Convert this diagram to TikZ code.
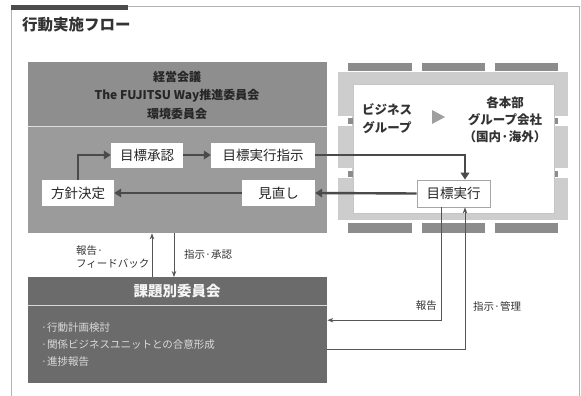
\documentclass[tikz,border=0pt]{standalone}
\usepackage{fontspec}
\setmainfont{Noto Sans CJK JP}
\usetikzlibrary{arrows.meta,calc}
\definecolor{hdrgray}{HTML}{8E8E8E}
\definecolor{lowgray}{HTML}{9B9B9B}
\definecolor{botgray}{HTML}{6B6B6B}
\definecolor{arr}{HTML}{4A4A4A}
\definecolor{thinl}{HTML}{555555}
\definecolor{framel}{HTML}{CDCDCD}
\definecolor{bardark}{HTML}{8C8C8C}
\definecolor{listtxt}{HTML}{DADADA}
\tikzset{
  wbox/.style={fill=white, inner sep=0pt, font=\fontsize{13.5}{15}\selectfont, text=black!85},
  thickarr/.style={draw=arr, line width=2.4pt, -{Triangle[length=7pt,width=8.5pt]}},
  thinarr/.style={draw=thinl, line width=0.8pt, -{Stealth[length=6pt,width=4.5pt]}},
  smalllbl/.style={font=\fontsize{10.5}{13}\selectfont, text=black!80, inner sep=0pt},
  darkbar/.style={fill=bardark},
}
\begin{document}
\begin{tikzpicture}[x=1pt,y=-1pt]
\useasboundingbox (0,0) rectangle (581,396);
% outer frame
\draw[gray!60, line width=0.8pt] (11,396) -- (11,6) -- (579,6) -- (579,396);
\fill[black!70] (11,5) rectangle (128,10.5);
\node[anchor=west, inner sep=0pt, font=\fontsize{15.5}{17}\selectfont\bfseries, text=black!80] (title) at (22,25) {行動実施フロー};

% top management box
\node[fill=lowgray, minimum width=299pt, minimum height=171pt, inner sep=0pt, anchor=north west] (mgmt) at (28,62) {};
\fill[hdrgray] (28,62) rectangle (327,126);
\draw[white!75!gray, line width=1pt] (28,126) -- (327,126);
\node[align=center, inner sep=0pt, font=\fontsize{12}{18.5}\selectfont\bfseries, text=black!85] (mgmttxt) at (177,95) {経営会議\\The FUJITSU Way推進委員会\\環境委員会};

% nodes inside
\node[wbox, minimum width=72pt, minimum height=25pt] (shonin) at (147,155) {目標承認};
\node[wbox, minimum width=104pt, minimum height=25pt] (shiji) at (263,155) {目標実行指示};
\node[wbox, minimum width=72pt, minimum height=26pt] (hoshin) at (78,193) {方針決定};
\node[wbox, minimum width=73pt, minimum height=26pt] (minaoshi) at (278.5,193) {見直し};

% right frame
\fill[framel] (338,72) rectangle (568,220);
\fill[white] (337,116) rectangle (352,126);
\fill[white] (337,168) rectangle (352,178);
\fill[white] (554,116) rectangle (569,126);
\fill[white] (554,168) rectangle (569,178);
\fill[bardark] (348,118) rectangle (353,124);
\fill[bardark] (348,171) rectangle (353,177);
\fill[bardark] (553,118) rectangle (558,124);
\fill[bardark] (553,171) rectangle (558,177);
\node[fill=white, draw=gray!45, line width=0.6pt, minimum width=201pt, minimum height=129pt, inner sep=0pt, anchor=north west] (bizbox) at (352.5,84) {};
\fill[darkbar] (348,63) rectangle (412,71);
\fill[darkbar] (422,63) rectangle (485,71);
\fill[darkbar] (495,63) rectangle (558,71);
\fill[darkbar] (348,223) rectangle (412,233);
\fill[darkbar] (422,223) rectangle (485,233);
\fill[darkbar] (495,223) rectangle (558,233);

\node[align=center, inner sep=0pt, font=\fontsize{12.5}{18}\selectfont\bfseries, text=black!80] (biz) at (387,119) {ビジネス\\グループ};
\fill[gray!75] (432,110) -- (445,117) -- (432,124) -- cycle;
\node[align=center, inner sep=0pt, font=\fontsize{12.5}{17}\selectfont\bfseries, text=black!80] (honbu) at (505,120) {各本部\\グループ会社\\（国内·海外）};
\node[wbox, draw=gray!70, line width=0.8pt, minimum width=73pt, minimum height=27pt] (jikko) at (453.5,193.5) {目標実行};

% bottom committee box
\node[fill=botgray, minimum width=299pt, minimum height=106pt, inner sep=0pt, anchor=north west] (kadai) at (28,277) {};
\draw[white!70!gray, line width=0.8pt] (28,305) -- (327,305);
\node[inner sep=0pt, font=\fontsize{14.5}{16}\selectfont\bfseries, text=white!92!gray] (kadaititle) at (177,291) {課題別委員会};
\node[anchor=west, inner sep=0pt, font=\fontsize{10.5}{17}\selectfont, text=listtxt, align=left] (kadailist) at (41,345) {·行動計画検討\\·関係ビジネスユニットとの合意形成\\·進捗報告};

% thick arrows
\draw[thickarr] (hoshin.north) |- (shonin.west);
\draw[thickarr] (shonin) -- (shiji);
\draw[thickarr] (shiji.east) -| ([xshift=11.5pt]jikko.north);
\draw[thickarr] (jikko.west) -- (minaoshi.east);
\draw[thickarr] (minaoshi.west) -- (hoshin.east);

% between boxes
\draw[thinarr] ([xshift=124pt]kadai.north west) -- ([xshift=124pt]mgmt.south west);
\draw[thinarr] ([xshift=146pt]mgmt.south west) -- ([xshift=146pt]kadai.north west);
\node[smalllbl, anchor=west, align=left, font=\fontsize{10.5}{13}\selectfont] (fb) at (76,256.5) {報告·\\フィードバック};
\node[smalllbl, anchor=west] (shonin2) at (184,255) {指示·承認};

% right thin lines
\draw[thinarr] ([xshift=-12.5pt]jikko.south) |- ([yshift=10pt]kadai.east);
\draw[thinarr] ([yshift=-19pt]kadai.east) -| ([xshift=11.5pt]jikko.south);
\node[smalllbl, anchor=east] (hokoku) at (437,306) {報告};
\node[smalllbl, anchor=west] (kanri) at (473,306) {指示·管理};
\end{tikzpicture}
\end{document}
